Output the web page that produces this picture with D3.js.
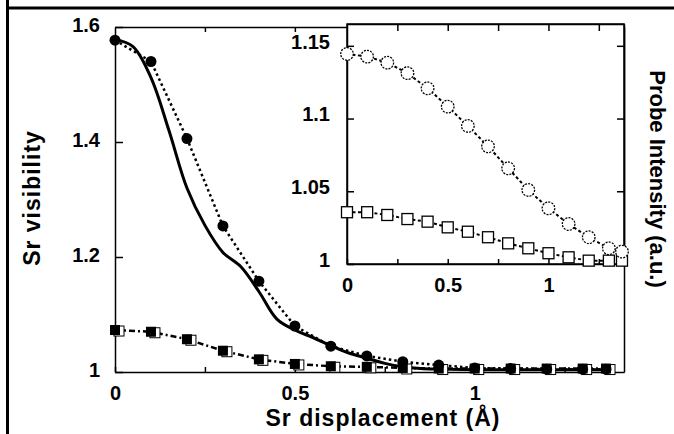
<!DOCTYPE html>
<html>
<head>
<meta charset="utf-8">
<script src="https://cdn.jsdelivr.net/npm/d3@7"></script>
<style>
  body { margin: 0; background: #fff; }
  svg text { font-family: "Liberation Sans", Arial, sans-serif; font-weight: bold; fill: #000; }
</style>
</head>
<body>
<svg id="chart" width="674" height="434"></svg>
<script>
// main panel: Sr visibility vs Sr displacement
const displacement = [0, 0.1, 0.2, 0.3, 0.4, 0.5, 0.6, 0.7, 0.8, 0.9, 1.0, 1.1, 1.2, 1.3, 1.365];
const visCircles = [1.577, 1.540, 1.406, 1.254, 1.158, 1.080, 1.045, 1.028, 1.018, 1.012, 1.007, 1.006, 1.005, 1.005, 1.005];
const visSquares = [1.073, 1.070, 1.057, 1.037, 1.022, 1.014, 1.010, 1.009, 1.007, 1.006, 1.006, 1.006, 1.006, 1.006, 1.006];
const solidDisp = [0, 0.05, 0.1, 0.15, 0.2, 0.25, 0.3, 0.35, 0.4, 0.45, 0.5, 0.55, 0.6, 0.65, 0.7, 0.75, 0.8, 0.85, 0.9, 1.0, 1.2, 1.365];
const visSolid = [1.578, 1.566, 1.512, 1.42, 1.32, 1.255, 1.208, 1.183, 1.14, 1.092, 1.073, 1.06, 1.046, 1.033, 1.024, 1.015, 1.009, 1.006, 1.005, 1.004, 1.004, 1.004];

// inset: probe intensity
const probeCircles = [1.1444, 1.1426, 1.1384, 1.1312, 1.1208, 1.1082, 1.0949, 1.0809, 1.0658, 1.0509, 1.0383, 1.0275, 1.0184, 1.0108, 1.0085];
const probeSquares = [1.0356, 1.0356, 1.0337, 1.0309, 1.0291, 1.0252, 1.0222, 1.0184, 1.0142, 1.0108, 1.0074, 1.0046, 1.0023, 1.0023, 1.0023];

// ticks
const mainYTicks = [1, 1.2, 1.4, 1.6];
const mainXTicks = [0, 0.25, 0.5, 0.75, 1, 1.25];
const xLabelTicks = [0, 0.5, 1];
const insetYTicks = [1, 1.05, 1.1, 1.15];
const insetXTicks = [0, 0.25, 0.5, 0.75, 1, 1.25];

const svg = d3.select("#chart");
const fmt = d3.format("");

// page frame (table cell border)
svg.append("line").attr("x1", 7.5).attr("y1", 0).attr("x2", 7.5).attr("y2", 434)
   .attr("stroke", "#000").attr("stroke-width", 3);
svg.append("line").attr("x1", 7.5).attr("y1", 8).attr("x2", 674).attr("y2", 8)
   .attr("stroke", "#000").attr("stroke-width", 3);

const x = d3.scaleLinear().domain([0, 1.415]).range([115, 624]);
const y = d3.scaleLinear().domain([1, 1.6]).range([372, 27]);

function styleAxis(sel, size) {
  sel.selectAll("path.domain").attr("stroke", "#000").attr("stroke-width", 1.5);
  sel.selectAll(".tick line").attr("stroke", "#000").attr("stroke-width", 1.5);
  sel.selectAll("text").attr("font-size", size).attr("fill", "#000")
     .style("font-family", "'Liberation Sans', Arial, sans-serif").style("font-weight", "bold");
}

// main axes
const main = svg.append("g");
main.append("g").attr("transform", "translate(115,0)")
  .call(d3.axisLeft(y).tickValues(mainYTicks).tickSizeInner(-8).tickSizeOuter(0).tickPadding(15).tickFormat(fmt))
  .call(g => styleAxis(g, 20))
  .call(g => g.selectAll("text").attr("dy", "0.22em"));
main.append("g").attr("transform", "translate(0,372)")
  .call(d3.axisBottom(x).tickValues(mainXTicks).tickSizeInner(-5).tickSizeOuter(0).tickPadding(14)
    .tickFormat(d => xLabelTicks.includes(d) ? fmt(d) : ""))
  .call(g => styleAxis(g, 20));
main.append("g").attr("transform", "translate(0,27)")
  .call(d3.axisTop(x).tickValues(mainXTicks.slice(1)).tickSizeInner(-5).tickSizeOuter(0).tickFormat(""))
  .call(g => styleAxis(g, 20));
main.append("g").attr("transform", "translate(624,0)")
  .call(d3.axisRight(y).tickValues([1.2, 1.4]).tickSizeInner(-8).tickSizeOuter(0).tickFormat(""))
  .call(g => styleAxis(g, 20));

// main data
const solidLine = d3.line().x((d, i) => x(solidDisp[i])).y(d => y(d)).curve(d3.curveCatmullRom);
main.append("path").datum(visSolid).attr("d", solidLine)
  .attr("fill", "none").attr("stroke", "#000").attr("stroke-width", 3);

const ptLine = d3.line().x((d, i) => x(displacement[i])).y(d => y(d));
main.append("path").datum(visSquares).attr("d", ptLine)
  .attr("fill", "none").attr("stroke", "#000").attr("stroke-width", 2.5).attr("stroke-dasharray", "6,3,2,3");
main.append("path").datum(visCircles).attr("d", ptLine)
  .attr("fill", "none").attr("stroke", "#000").attr("stroke-width", 2.5).attr("stroke-dasharray", "2.5,3");

main.append("g").attr("transform", "translate(4,1)").selectAll("rect")
  .data(visSquares).join("rect")
  .attr("x", (d, i) => x(displacement[i]) - 5).attr("y", d => y(d) - 5)
  .attr("width", 10).attr("height", 10)
  .attr("fill", "#fff").attr("stroke", "#000").attr("stroke-width", 1);
main.append("g").selectAll("rect")
  .data(visSquares).join("rect")
  .attr("x", (d, i) => x(displacement[i]) - 5).attr("y", d => y(d) - 5)
  .attr("width", 10).attr("height", 10).attr("fill", "#000");
main.append("g").selectAll("circle")
  .data(visCircles).join("circle")
  .attr("cx", (d, i) => x(displacement[i])).attr("cy", d => y(d))
  .attr("r", 5.5).attr("fill", "#000");

// inset
const xi = d3.scaleLinear().domain([0, 1.375]).range([347, 624]);
const yi = d3.scaleLinear().domain([1, 1.165]).range([264, 24]);
const inset = svg.append("g");
inset.append("rect").attr("x", xi(0)).attr("y", yi(1.165))
  .attr("width", xi(1.375) - xi(0)).attr("height", yi(1) - yi(1.165))
  .attr("fill", "#fff").attr("stroke", "#000").attr("stroke-width", 1.5);

inset.append("g").attr("transform", "translate(347,0)")
  .call(d3.axisLeft(yi).tickValues(insetYTicks).tickSizeInner(-7).tickSizeOuter(0).tickPadding(17).tickFormat(fmt))
  .call(g => styleAxis(g, 20))
  .call(g => g.selectAll("text").attr("dy", "0.12em"));
inset.append("g").attr("transform", "translate(624,0)")
  .call(d3.axisRight(yi).tickValues(insetYTicks.slice(1)).tickSizeInner(-7).tickSizeOuter(0).tickFormat(""))
  .call(g => styleAxis(g, 20));
inset.append("g").attr("transform", "translate(0,264)")
  .call(d3.axisBottom(xi).tickValues(insetXTicks).tickSizeInner(-5).tickSizeOuter(0).tickPadding(14)
    .tickFormat(d => xLabelTicks.includes(d) ? fmt(d) : ""))
  .call(g => styleAxis(g, 20));
inset.append("g").attr("transform", "translate(0,24)")
  .call(d3.axisTop(xi).tickValues(insetXTicks.slice(1)).tickSizeInner(-7).tickSizeOuter(0).tickFormat(""))
  .call(g => styleAxis(g, 20));

const inLine = d3.line().x((d, i) => xi(displacement[i])).y(d => yi(d));
[probeCircles, probeSquares].forEach(s => {
  inset.append("path").datum(s).attr("d", inLine)
    .attr("fill", "none").attr("stroke", "#000").attr("stroke-width", 2).attr("stroke-dasharray", "3,2.5");
});
inset.append("g").selectAll("rect")
  .data(probeSquares).join("rect")
  .attr("x", (d, i) => xi(displacement[i]) - 5.5).attr("y", d => yi(d) - 5.5)
  .attr("width", 11).attr("height", 11)
  .attr("fill", "#fff").attr("stroke", "#000").attr("stroke-width", 1.3);
inset.append("g").selectAll("circle")
  .data(probeCircles).join("circle")
  .attr("cx", (d, i) => xi(displacement[i])).attr("cy", d => yi(d))
  .attr("r", 6.3).attr("fill", "#fff").attr("stroke", "#000")
  .attr("stroke-width", 1.3).attr("stroke-dasharray", "2,1.2");

// axis titles
svg.append("text").attr("x", 383).attr("y", 426).attr("text-anchor", "middle")
  .attr("font-size", 23).attr("letter-spacing", 1).text("Sr displacement (Å)");
svg.append("text").attr("transform", "translate(40,198) rotate(-90)").attr("text-anchor", "middle")
  .attr("font-size", 23).attr("letter-spacing", 1).text("Sr visibility");
svg.append("text").attr("transform", "translate(650,179) rotate(90)").attr("text-anchor", "middle")
  .attr("font-size", 22).text("Probe Intensity (a.u.)");
</script>
</body>
</html>
